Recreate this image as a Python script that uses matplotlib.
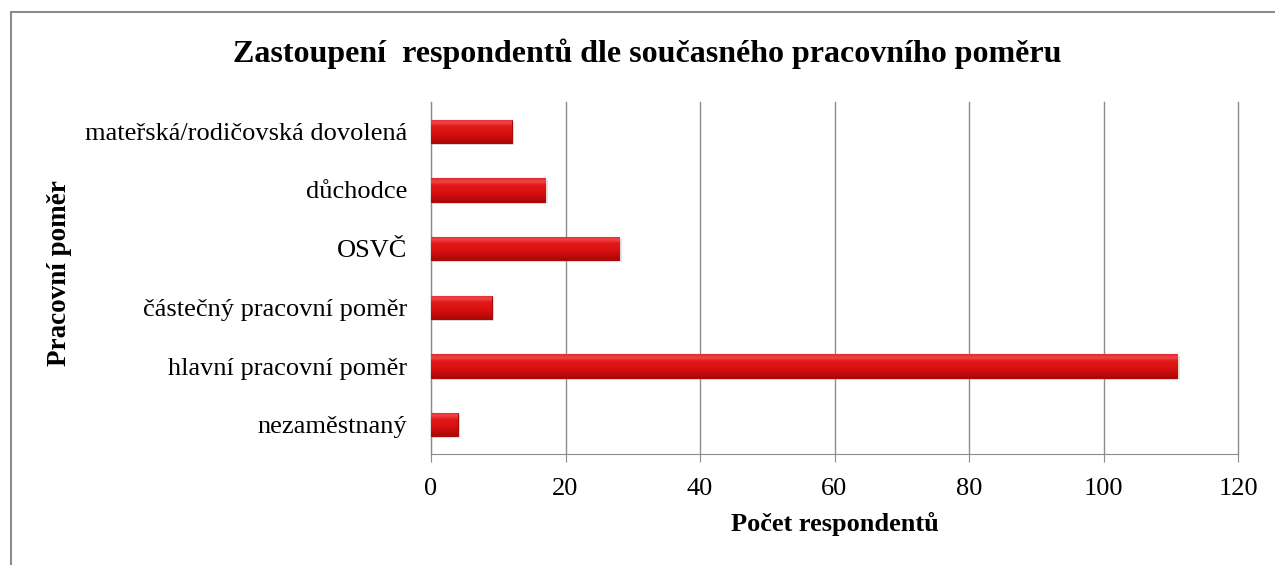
import numpy as np
import matplotlib
matplotlib.use("Agg")
import matplotlib.pyplot as plt
from matplotlib.patches import Rectangle
from matplotlib.colors import LinearSegmentedColormap

categories = ["nezaměstnaný", "hlavní pracovní poměr", "částečný pracovní poměr",
              "OSVČ", "důchodce", "mateřská/rodičovská dovolená"]
counts = [4, 111, 9, 28, 17, 12]
x_ticks = [0, 20, 40, 60, 80, 100, 120]

title = "Zastoupení  respondentů dle současného pracovního poměru"
x_title = "Počet respondentů"
y_title = "Pracovní poměr"

plt.rcParams['font.family'] = ['Liberation Serif', 'DejaVu Serif']

W, H = 1275, 565
fig = plt.figure(figsize=(W / 100, H / 100), dpi=100)
fig.patch.set_facecolor('white')

# outer chart border (runs off the right and bottom edges)
fig.patches.append(Rectangle((11 / W, -0.1), 1.2, (H - 12) / H + 0.1,
                             transform=fig.transFigure, fill=False,
                             edgecolor='#8c8c8c', linewidth=1.5))

ax = fig.add_axes([431 / W, (H - 454) / H, (1238 - 431) / W, (454 - 102) / H])

y = np.arange(len(categories))
bar_h = 0.40

# soft shadow under the bars
ax.barh(y - 0.035, np.array(counts) + 0.35, height=bar_h, color='#808080',
        alpha=0.22, linewidth=0, zorder=2)
bars = ax.barh(y, counts, height=bar_h, color='#d81010', edgecolor='#a80a0a',
               linewidth=0.8, zorder=3)

# vertical gradient for the bevelled look (top row of array = top of bar)
bevel = LinearSegmentedColormap.from_list(
    "bevel", [(0.0, '#a80808'), (0.15, '#c00a0a'), (0.4, '#d81010'),
              (0.7, '#e01818'), (0.86, '#f0444a'), (1.0, '#e22a30')])
grad = np.linspace(1, 0, 64).reshape(-1, 1)
for p in bars:
    x0, y0, w, h = p.get_x(), p.get_y(), p.get_width(), p.get_height()
    im = ax.imshow(grad, extent=[x0, x0 + w, y0, y0 + h], aspect='auto',
                   cmap=bevel, vmin=0, vmax=1, zorder=3.5, interpolation='bilinear')
    im.set_clip_path(p)

ax.set_xlim(0, 120)
ax.set_ylim(-0.5, len(categories) - 0.5)
ax.set_aspect('auto')
ax.set_xticks(x_ticks)
ax.set_yticks(y)
ax.set_yticklabels(categories)

ax.grid(axis='x', color='#8c8c8c', linewidth=1.0, zorder=0)
for gl in ax.get_xgridlines():
    gl.set_clip_on(False)
ax.set_axisbelow(True)
for side in ['top', 'right']:
    ax.spines[side].set_visible(False)
ax.spines['left'].set_color('#8c8c8c')
ax.spines['bottom'].set_color('#8c8c8c')

ax.tick_params(axis='x', length=6, color='#8c8c8c', labelsize=19, pad=11)
ax.tick_params(axis='y', length=0, labelsize=19, pad=17)

ax.set_xlabel(x_title, fontsize=19, fontweight='bold', labelpad=9)
ax.set_ylabel(y_title, fontsize=19.5, fontweight='bold')
ax.yaxis.set_label_coords(-(431 - 72) / (1238 - 431), 0.515)

fig.text(647 / W, 1 - 54 / H, title, fontsize=23, fontweight='bold',
         ha='center', va='center')

fig.savefig("out.png", dpi=100)
